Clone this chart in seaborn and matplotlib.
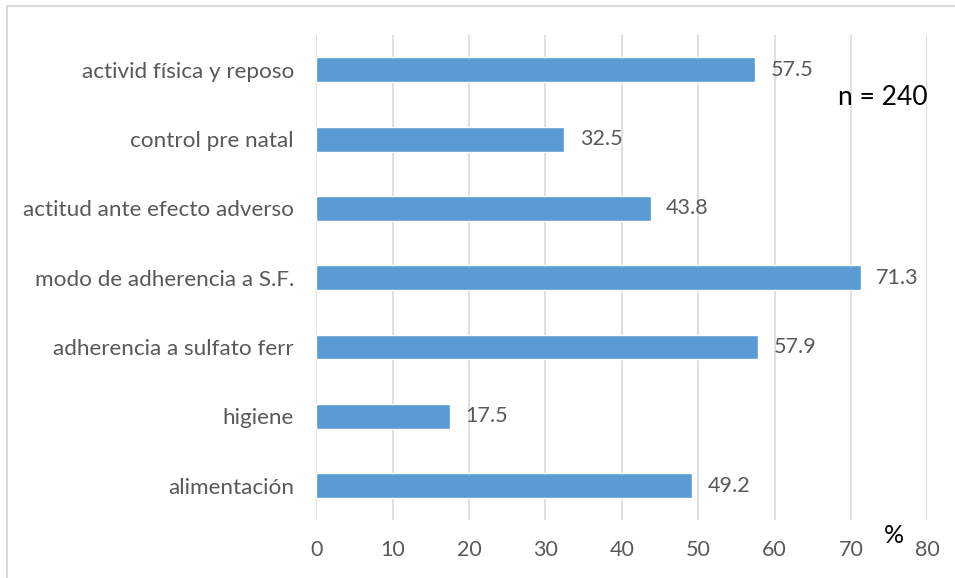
import matplotlib
matplotlib.use("Agg")
import matplotlib.pyplot as plt
import pandas as pd
import seaborn as sns
from matplotlib.lines import Line2D

categories = [
    "activid física y reposo",
    "control pre natal",
    "actitud ante efecto adverso",
    "modo de adherencia a S.F.",
    "adherencia a sulfato ferr",
    "higiene",
    "alimentación",
]
values = [57.5, 32.5, 43.8, 71.3, 57.9, 17.5, 49.2]
x_ticks = [0, 10, 20, 30, 40, 50, 60, 70, 80]

BAR_COLOR = "#5B9BD5"
TEXT_COLOR = "#595959"
GRID_COLOR = "#D9D9D9"

sns.set_theme(style="white")
plt.rcParams["font.family"] = ["Lato", "DejaVu Sans"]

df = pd.DataFrame({"category": categories, "value": values})

fig = plt.figure(figsize=(9.55, 5.78), dpi=100)
ax = fig.add_axes([0.331, 0.100, 0.64, 0.839])

sns.barplot(data=df, y="category", x="value", orient="h", color=BAR_COLOR,
            saturation=1, width=0.36, ax=ax)

ax.set_xlim(0, 80)
ax.set_ylim(len(categories) - 0.5, -0.5)
ax.set_xticks(x_ticks)
ax.set_xticklabels([str(t) for t in x_ticks])
ax.grid(True, axis="x", color=GRID_COLOR, linewidth=1.2)
ax.grid(False, axis="y")
ax.set_axisbelow(True)
for spine in ax.spines.values():
    spine.set_visible(False)
ax.set_xlabel("")
ax.set_ylabel("")
ax.tick_params(axis="both", length=0, labelsize=15.5, colors=TEXT_COLOR)
ax.tick_params(axis="y", labelsize=16.2, pad=16)
ax.tick_params(axis="x", pad=14)

for i, v in enumerate(values):
    ax.text(v + 2.0, i, f"{v:.1f}", va="center", ha="left",
            fontsize=15.5, color=TEXT_COLOR)

ax.text(80.0, 0.4, "n = 240", ha="right", va="center", fontsize=19, color="black")
ax.text(75.6, -0.032, "%", transform=ax.get_xaxis_transform(), ha="center",
        va="center", fontsize=18, color="black", clip_on=False)

# outer chart-area frame (only left and top edges are visible in the crop)
fig.add_artist(Line2D([0.0075, 0.0075], [0.0, 0.99], transform=fig.transFigure,
                      color=GRID_COLOR, linewidth=1.5))
fig.add_artist(Line2D([0.0075, 1.0], [0.99, 0.99], transform=fig.transFigure,
                      color=GRID_COLOR, linewidth=1.5))

fig.savefig("out.png", dpi=100)
